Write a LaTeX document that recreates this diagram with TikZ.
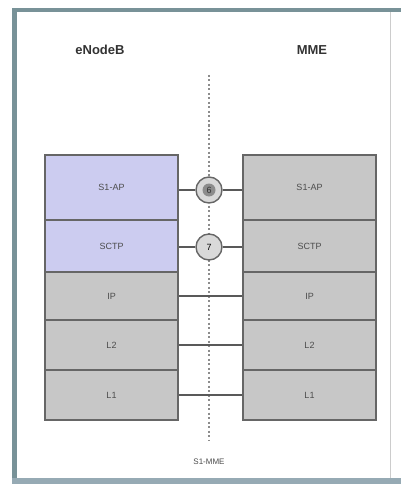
\documentclass[tikz,border=0pt]{standalone}
\usepackage{fontspec}
\setmainfont{Liberation Sans}
\begin{document}
\begin{tikzpicture}[x=1pt,y=-1pt,
  layer/.style={draw=black!60, line width=2.4pt, minimum width=133pt, inner sep=0pt, font=\fontsize{9}{10}\selectfont, text=black!70},
  blue layer/.style={layer, fill={rgb,255:red,204;green,204;blue,240}},
  gray layer/.style={layer, fill=black!22},
  peer/.style={draw=black!65, line width=1.6pt},
  ring/.style={circle, draw=black!60, line width=1.4pt, fill=black!15, minimum size=26pt, inner sep=0pt, font=\fontsize{9}{10}\selectfont},
  title/.style={font=\bfseries\fontsize{13}{15}\selectfont, text=black!80}]
\useasboundingbox (0,0) rectangle (401,484);
\fill[white] (0,0) rectangle (401,484);
% frame
\draw[draw=black!20, line width=0.8pt] (390,10) -- (390,478);
\fill[color={rgb,255:red,120;green,146;blue,152}] (12,8) rectangle (401,12);
\fill[color={rgb,255:red,120;green,146;blue,152}] (12,8) rectangle (17,484);
\fill[color={rgb,255:red,150;green,170;blue,180}] (12,478) rectangle (401,484);
% titles
\node[title] (enb) at (100,50) {eNodeB};
\node[title] (mme) at (312,50) {MME};
% dotted line
\coordinate (dtop) at (209,75);
\coordinate (dbot) at (209,440);
\draw[black!45, line width=1.8pt, dash pattern=on 2pt off 2.5pt] (dtop) -- (dbot);
% left stack
\node[blue layer, minimum height=65pt] (l1ap) at (111.5,187.5) {S1-AP};
\node[blue layer, minimum height=52pt] (lsctp) at (111.5,246) {SCTP};
\node[gray layer, minimum height=48pt] (lip) at (111.5,296) {IP};
\node[gray layer, minimum height=50pt] (ll2) at (111.5,345) {L2};
\node[gray layer, minimum height=50pt] (ll1) at (111.5,395) {L1};
% right stack
\node[gray layer, minimum height=65pt] (r1ap) at (309.5,187.5) {S1-AP};
\node[gray layer, minimum height=52pt] (rsctp) at (309.5,246) {SCTP};
\node[gray layer, minimum height=48pt] (rip) at (309.5,296) {IP};
\node[gray layer, minimum height=50pt] (rl2) at (309.5,345) {L2};
\node[gray layer, minimum height=50pt] (rl1) at (309.5,395) {L1};
% circles
\node[ring] (c6) at (209,190) {};
\node[circle, fill=black!45, minimum size=13pt, inner sep=0pt, font=\fontsize{9}{10}\selectfont, text=black!80] (c6in) at (c6) {6};
\node[ring] (c7) at (209,247) {7};
% peer lines
\draw[peer] (l1ap.east |- c6) -- (c6.west);
\draw[peer] (c6.east) -- (r1ap.west |- c6);
\draw[peer] (lsctp.east |- c7) -- (c7.west);
\draw[peer] (c7.east) -- (rsctp.west |- c7);
\draw[peer] (lip.east) -- (rip.west);
\draw[peer] (ll2.east) -- (rl2.west);
\draw[peer] (ll1.east) -- (rl1.west);
% bottom label
\node[font=\fontsize{8}{9}\selectfont, text=black!70] (s1mme) at (209,462) {S1-MME};
\end{tikzpicture}
\end{document}
